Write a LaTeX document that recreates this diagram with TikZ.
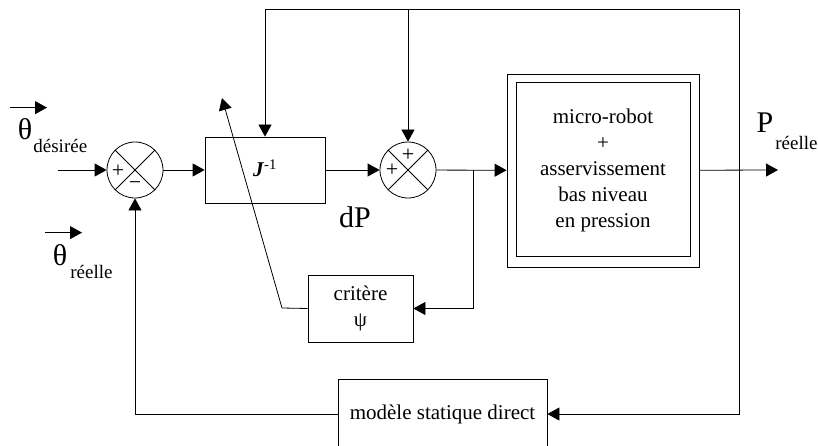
\documentclass[tikz,border=0pt]{standalone}
\usepackage{fontspec}
\setmainfont{Liberation Serif}
\usetikzlibrary{arrows.meta,positioning}

\begin{document}
\begin{tikzpicture}[x=1pt,y=1pt,line width=.8pt,
  fl/.style={-{Triangle[length=12pt,width=13pt]}},
  bloc/.style={draw,rectangle,inner sep=0pt,align=center,font=\fontsize{21}{26}\selectfont},
  somme/.style={draw,circle,minimum size=56pt,inner sep=0pt,
    path picture={\draw (path picture bounding box.north west) -- (path picture bounding box.south east)
      (path picture bounding box.north east) -- (path picture bounding box.south west);}},
  signe/.style={font=\fontsize{22}{22}\selectfont,inner sep=0pt},
  grand/.style={font=\fontsize{30}{30}\selectfont,inner sep=0pt,anchor=base},
  indice/.style={font=\fontsize{19}{19}\selectfont,inner sep=0pt,anchor=base west}]
\useasboundingbox (0,0) rectangle (818,445);

% blocs
\node[somme] (sA) at (135,275) {};
\node[bloc,minimum width=120pt,minimum height=66pt] (jinv) at (265,275) {\raisebox{4pt}{\textbf{\textit{J}}\textsuperscript{-1}}};
\node[somme] (sB) at (408,275) {};
\node[bloc,minimum width=192pt,minimum height=193pt] (robot) at (603,274.5) {micro-robot\\+\\asservissement\\bas niveau\\en pression};
\draw ([shift={(10,-9)}]robot.north west) rectangle ([shift={(-9,11)}]robot.south east);
\node[bloc,minimum width=105pt,minimum height=67pt] (crit) at (360.5,136.5) {critère\\ψ};
\node[bloc,minimum width=209pt,minimum height=70pt] (mod) at (442.5,31) {modèle statique direct};

% signes
\node[signe] at ([xshift=-17pt,yshift=-1pt]sA.center) {+};
\node[signe] at ([yshift=-16pt]sA.center) {−};
\node[signe] at ([yshift=15pt]sB.center) {+};
\node[signe] at ([xshift=-16pt]sB.center) {+};

% points libres
\coordinate (e) at (58,275);
\coordinate (s) at (778,275);
\coordinate (hg) at (265,436);
\coordinate (hd) at (739,436);
\coordinate (nB) at (473,275);
\coordinate (d1) at (282,137);
\coordinate (d2) at (222,347);

% liaisons
\draw[fl] (e) -- (sA);
\draw[fl] (sA) -- (jinv);
\draw[fl] (jinv) -- (sB);
\draw[fl] (sB) -- (robot);
\draw[fl] (robot) -- (s);
\draw[fl] (hg) -- (hd) -- (hd |- mod.east) -- (mod.east);
\draw[fl] (hg) -- (jinv.north);
\draw[fl] (sB.north |- hg) -- (sB.north);
\draw[fl] (mod.west) -| (sA.south);
\draw[fl] (nB) |- (crit.east);
\draw[fl] (crit.west) -- (d1) -- (d2);

% textes
\node[grand] (thD) at (25,305) {θ};
\node[indice] at (33,292) {désirée};
\draw[fl] ([xshift=-15pt,yshift=11pt]thD.north) -- ([xshift=22pt,yshift=11pt]thD.north);
\node[grand] (thR) at (60,180) {θ};
\node[indice] at (70,167) {réelle};
\draw[fl] ([xshift=-15pt,yshift=11pt]thR.north) -- ([xshift=22pt,yshift=11pt]thR.north);
\node[grand] (P) at (765,312) {P};
\node[indice] at (775,295) {réelle};
\node[grand] at (355,218) {dP};
\end{tikzpicture}
\end{document}
